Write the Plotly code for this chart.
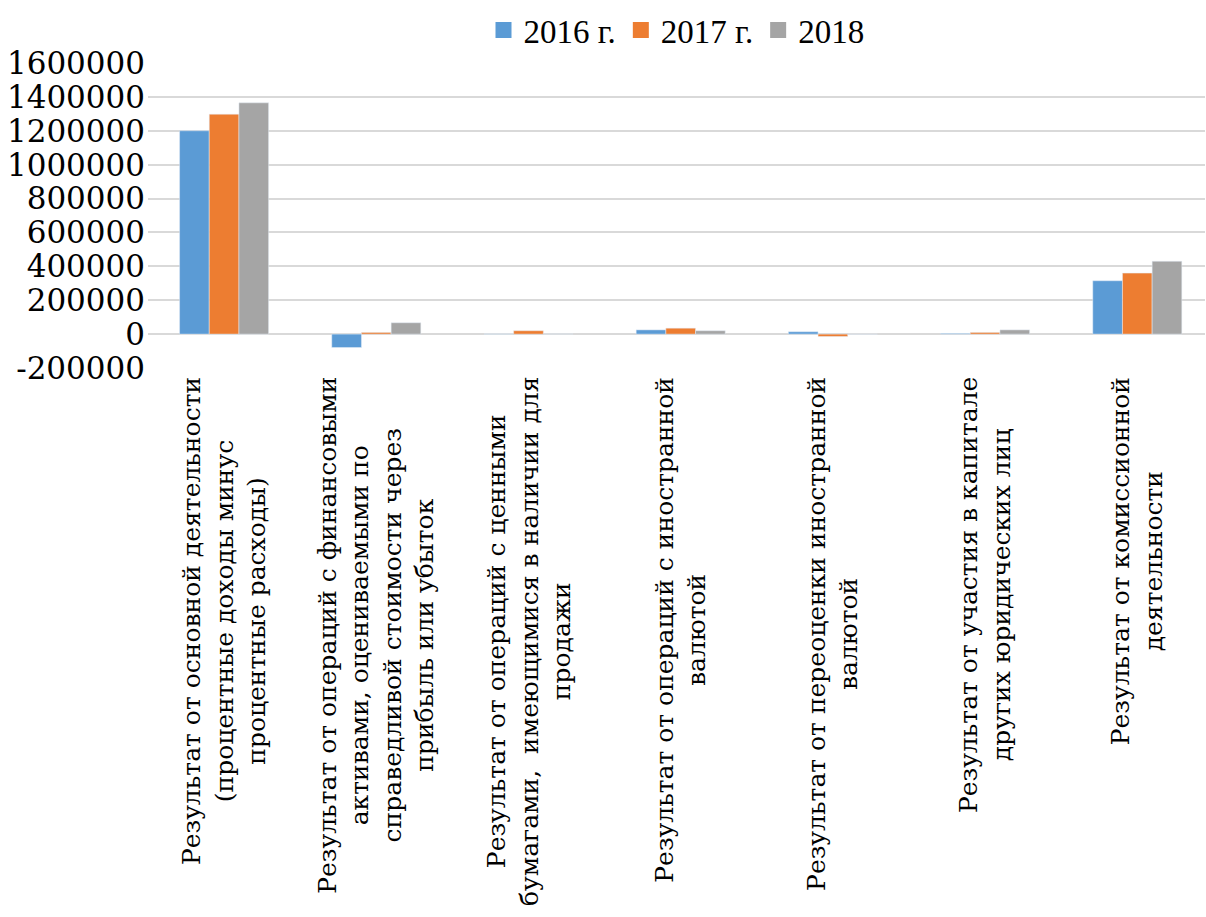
import plotly.graph_objects as go

categories = [
    "Результат от основной деятельности<br>(процентные доходы минус<br>процентные расходы)",
    "Результат от операций с финансовыми<br>активами, оцениваемыми по<br>справедливой стоимости через<br>прибыль или убыток",
    "Результат от операций с ценными<br>бумагами,  имеющимися в наличии для<br>продажи",
    "Результат от операций с иностранной<br>валютой",
    "Результат от переоценки иностранной<br>валютой",
    "Результат от участия в капитале<br>других юридических лиц",
    "Результат от комиссионной<br>деятельности",
]
cat_keys = ["c1", "c2", "c3", "c4", "c5", "c6", "c7"]

series_names = ["2016 г.", "2017 г.", "2018"]
v2016 = [1200000, -79000, 1000, 25000, 14000, 4000, 315000]
v2017 = [1298000, 10000, 20000, 35000, -14000, 10000, 360000]
v2018 = [1365000, 67000, 1500, 20000, -1500, 25000, 430000]
colors = ["#5B9BD5", "#ED7D31", "#A5A5A5"]

y_ticks = [-200000, 0, 200000, 400000, 600000, 800000, 1000000, 1200000, 1400000, 1600000]

FONT_TICK = "DejaVu Serif"
FONT_ANN = "DejaVu Serif"
FONT_LEG = "Liberation Serif, Times, serif"
W, H = 1206, 917
top, bottom_px, left, right_px = 63, 368, 148, 1205

fig = go.Figure()
for name, vals, col in zip(series_names, [v2016, v2017, v2018], colors):
    fig.add_trace(go.Bar(x=cat_keys, y=vals, name=name, marker=dict(color=col),
                         showlegend=False))
    fig.add_trace(go.Scatter(x=[None], y=[None], mode="markers", name=name,
                             marker=dict(symbol="square", size=18, color=col)))

for key, lab in zip(cat_keys, categories):
    fig.add_annotation(x=key, xref="x", y=-(375 - bottom_px) / (bottom_px - top), yref="paper",
                       text=lab, textangle=-90, showarrow=False, align="center",
                       xanchor="center", yanchor="top",
                       font=dict(family=FONT_ANN, size=25, color="black"))

plot_w = right_px - left
fig.update_layout(
    width=W, height=H,
    margin=dict(l=left, r=W - right_px, t=top, b=H - bottom_px, pad=0),
    paper_bgcolor="white", plot_bgcolor="white",
    barmode="group", bargap=0.415, bargroupgap=0,
    font=dict(family=FONT_LEG, size=30, color="black"),
    legend=dict(orientation="h", x=0.5, xanchor="center", y=(bottom_px - 30) / (bottom_px - top),
                yanchor="middle", font=dict(family=FONT_LEG, size=33, color="black"),
                itemsizing="trace", tracegroupgap=0, itemwidth=30),
    xaxis=dict(range=[-0.5, -0.5 + plot_w / 152.2],
               showticklabels=False, showgrid=False, zeroline=False, showline=False),
    yaxis=dict(range=[-200000, 1600000], tickvals=y_ticks, ticktext=[str(v) for v in y_ticks],
               showgrid=True, gridcolor="#D9D9D9", gridwidth=1.5,
               zeroline=True, zerolinecolor="#D9D9D9", zerolinewidth=2,
               showline=False, ticks="", ticklabelstandoff=2,
               tickfont=dict(family=FONT_TICK, size=31, color="black")),
)
fig.write_html("out.html")
